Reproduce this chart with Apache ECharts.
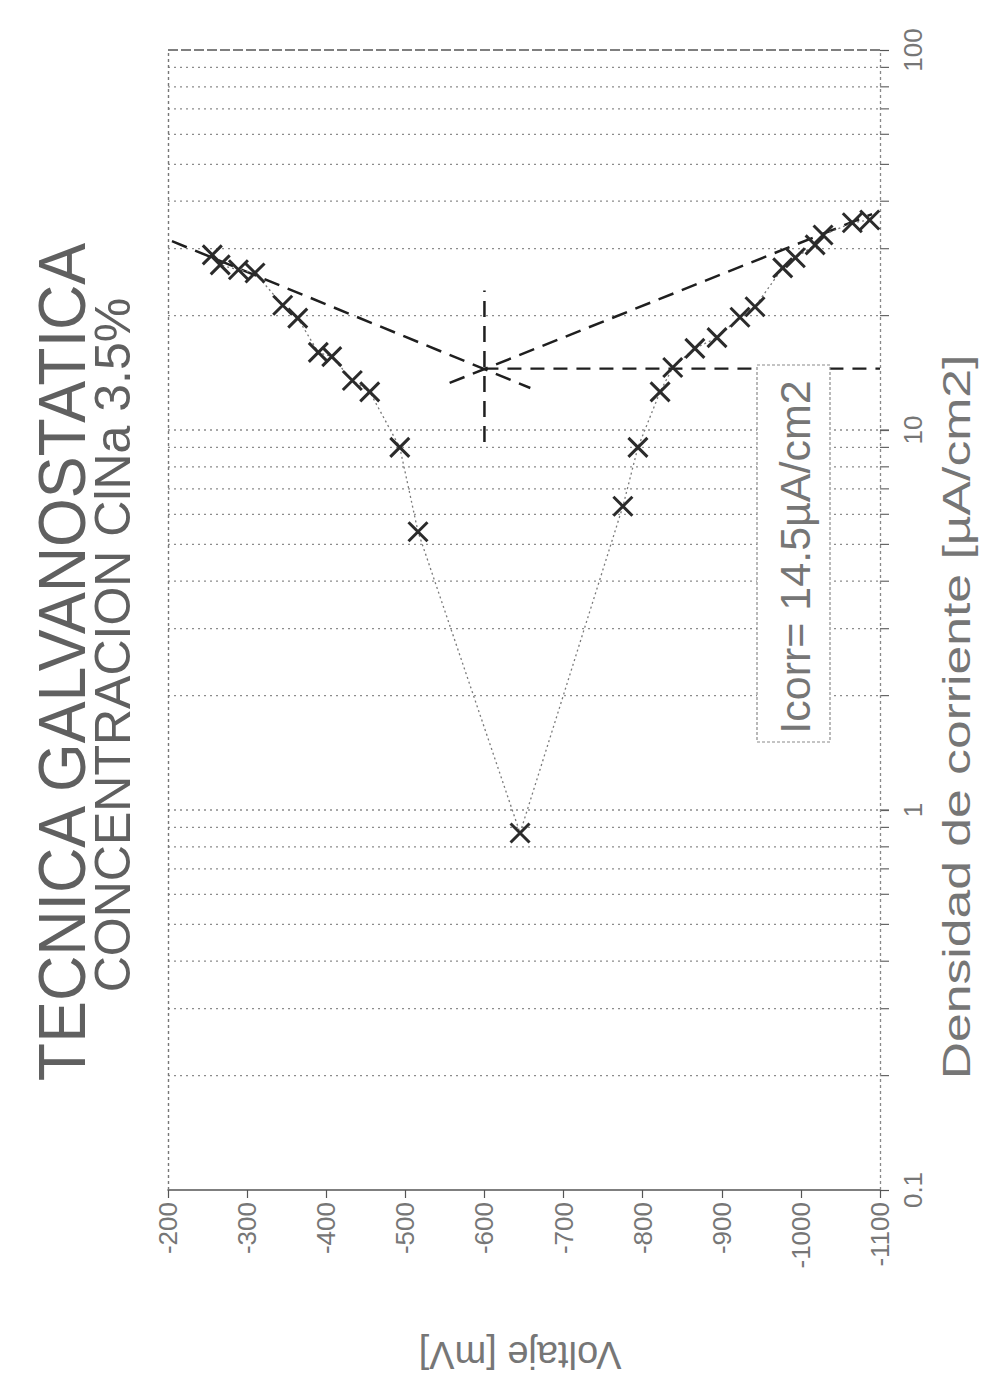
<!DOCTYPE html>
<html>
<head>
<meta charset="utf-8">
<script src="https://cdn.jsdelivr.net/npm/echarts@6/dist/echarts.min.js"></script>
<style>
  html, body { margin: 0; padding: 0; background: #fff; }
  #chart { width: 986px; height: 1381px; }
</style>
</head>
<body>
<div id="chart"></div>
<script>
// Galvanostatic polarisation curve, NaCl 3.5 %
// potential in mV, current density in µA/cm2
const anodicV   = [-256, -266, -289, -310, -345, -364, -390, -407, -433, -455, -493, -516];
const anodicI   = [28.9, 27.2, 26.4, 25.9, 21.3, 19.7, 16.0, 15.6, 13.5, 12.6, 9.0, 5.4];
const bottomV   = [-645];
const bottomI   = [0.87];
const cathodicV = [-775, -794, -822, -838, -866, -894, -923, -942, -977, -993, -1018, -1028, -1065, -1087];
const cathodicI = [6.3, 9.0, 12.6, 14.6, 16.4, 17.5, 19.8, 21.1, 26.7, 28.4, 30.7, 32.6, 35.1, 35.7];

// Tafel extrapolation lines
const tafelAnodicV   = [-205, -658];
const tafelAnodicI   = [31.4, 12.9];
const tafelCathodicV = [-556, -1090];
const tafelCathodicI = [13.3, 37.0];

// corrosion point
const eCorr = -600;
const iCorr = 14.5;
const eCorrMarkI = [9.3, 23.3];

// axes
const voltMin = -1100, voltMax = -200, voltStep = 100;
const currMin = 0.1, currMax = 100;
const gridValues = [0.2, 0.3, 0.4, 0.5, 0.6, 0.7, 0.8, 0.9,
                    1, 2, 3, 4, 5, 6, 7, 8, 9,
                    10, 20, 30, 40, 50, 60, 70, 80, 90];

const FONT = 'Liberation Sans, Arial, sans-serif';
const TEXT = '#767676';

const zip = (xs, ys) => xs.map((x, k) => [x, ys[k]]);
const curve = zip(anodicV, anodicI).concat(zip(bottomV, bottomI), zip(cathodicV, cathodicI));

const tafelStyle = { color: '#1f1f1f', width: 2.5, type: [16, 9] };

const chart = echarts.init(document.getElementById('chart'), null, { renderer: 'svg' });

chart.setOption({
  animation: false,
  backgroundColor: '#fff',
  grid: { left: 168, right: 106, top: 50, bottom: 191, containLabel: false },
  xAxis: {
    type: 'value',
    min: voltMin, max: voltMax, interval: voltStep,
    inverse: true,
    axisLine: { show: true, lineStyle: { color: '#555', width: 1.5 } },
    axisTick: { show: true, length: 8, lineStyle: { color: '#555', width: 1.2 } },
    axisLabel: {
      rotate: 90, margin: 12, fontSize: 26, color: TEXT, fontFamily: FONT,
      formatter: v => String(v)
    },
    splitLine: { show: false }
  },
  yAxis: {
    type: 'log', logBase: 10,
    min: currMin, max: currMax,
    position: 'right',
    axisLine: { show: false },
    axisTick: { show: true, length: 9, lineStyle: { color: '#555', width: 1.2 } },
    axisLabel: {
      rotate: 90, margin: 20, fontSize: 26, color: TEXT, fontFamily: FONT,
      formatter: v => String(v)
    },
    splitLine: { show: false }
  },
  graphic: [
    { type: 'text', x: 62, y: 662, rotation: Math.PI / 2, scaleX: 0.95, z: 100,
      style: { text: 'TECNICA GALVANOSTATICA', fontSize: 66, fontFamily: FONT, fill: '#606060',
               align: 'center', verticalAlign: 'middle' } },
    { type: 'text', x: 113, y: 645, rotation: Math.PI / 2, z: 100,
      style: { text: 'CONCENTRACION ClNa 3.5%', fontSize: 50, fontFamily: FONT, fill: '#606060',
               align: 'center', verticalAlign: 'middle' } },
    { type: 'text', x: 957, y: 717, rotation: Math.PI / 2, scaleX: 1.36, z: 100,
      style: { text: 'Densidad de corriente [µA/cm2]', fontSize: 38, fontFamily: FONT, fill: TEXT,
               align: 'center', verticalAlign: 'middle' } },
    { type: 'text', x: 520, y: 1355, rotation: Math.PI, z: 100,
      style: { text: 'Voltaje [mV]', fontSize: 38, fontFamily: FONT, fill: TEXT,
               align: 'center', verticalAlign: 'middle' } },
    { type: 'rect', z: 100,
      shape: { x: 757, y: 365, width: 73, height: 377 },
      style: { fill: '#fff', stroke: '#8a8a8a', lineWidth: 1.2, lineDash: [3, 2] } },
    { type: 'text', x: 795, y: 557, rotation: Math.PI / 2, z: 101,
      style: { text: 'Icorr= 14.5µA/cm2', fontSize: 43, fontFamily: FONT, fill: TEXT,
               align: 'center', verticalAlign: 'middle' } }
  ],
  series: [
    {
      // dotted horizontal grid and minor ticks of the log axis
      type: 'custom',
      z: 1,
      silent: true,
      clip: false,
      data: gridValues.map(v => [v]),
      encode: { y: 0 },
      renderItem: (params, api) => {
        const v = api.value(0);
        const a = api.coord([voltMax, v]);
        const b = api.coord([voltMin, v]);
        return {
          type: 'group',
          children: [
            { type: 'line', shape: { x1: a[0], y1: a[1], x2: b[0], y2: b[1] },
              style: { stroke: '#8c8c8c', lineWidth: 1.3, lineDash: [2, 4] } },
            { type: 'line', shape: { x1: b[0], y1: b[1], x2: b[0] + 9, y2: b[1] },
              style: { stroke: '#666', lineWidth: 1.2 } }
          ]
        };
      },
      markLine: {
        silent: true,
        symbol: 'none',
        label: { show: false },
        data: [
          { xAxis: voltMax, lineStyle: { color: '#777', width: 1.4, type: [3, 3] } },
          { xAxis: voltMin, lineStyle: { color: '#888', width: 1.3, type: [3, 3] } },
          { yAxis: currMax, lineStyle: { color: '#555', width: 1.6, type: [10, 3] } }
        ]
      }
    },
    {
      name: 'curva',
      type: 'line',
      z: 5,
      data: curve,
      symbol: 'path://M0,0L20,20M20,0L0,20',
      symbolSize: 19,
      itemStyle: { color: 'rgba(0,0,0,0)', borderColor: '#2b2b2b', borderWidth: 3 },
      lineStyle: { color: '#7a7a7a', width: 1.3, type: [2, 3] }
    },
    {
      name: 'tafel anodica',
      type: 'line', z: 4, symbol: 'none',
      data: zip(tafelAnodicV, tafelAnodicI),
      lineStyle: tafelStyle
    },
    {
      name: 'tafel catodica',
      type: 'line', z: 4, symbol: 'none',
      data: zip(tafelCathodicV, tafelCathodicI),
      lineStyle: tafelStyle
    },
    {
      name: 'Ecorr',
      type: 'line', z: 4, symbol: 'none',
      data: eCorrMarkI.map(i => [eCorr, i]),
      lineStyle: tafelStyle
    },
    {
      name: 'Icorr',
      type: 'line', z: 4, symbol: 'none',
      data: [[eCorr, iCorr], [voltMin, iCorr]],
      lineStyle: { color: '#1f1f1f', width: 2.2, type: [14, 9] }
    }
  ]
});
</script>
</body>
</html>
